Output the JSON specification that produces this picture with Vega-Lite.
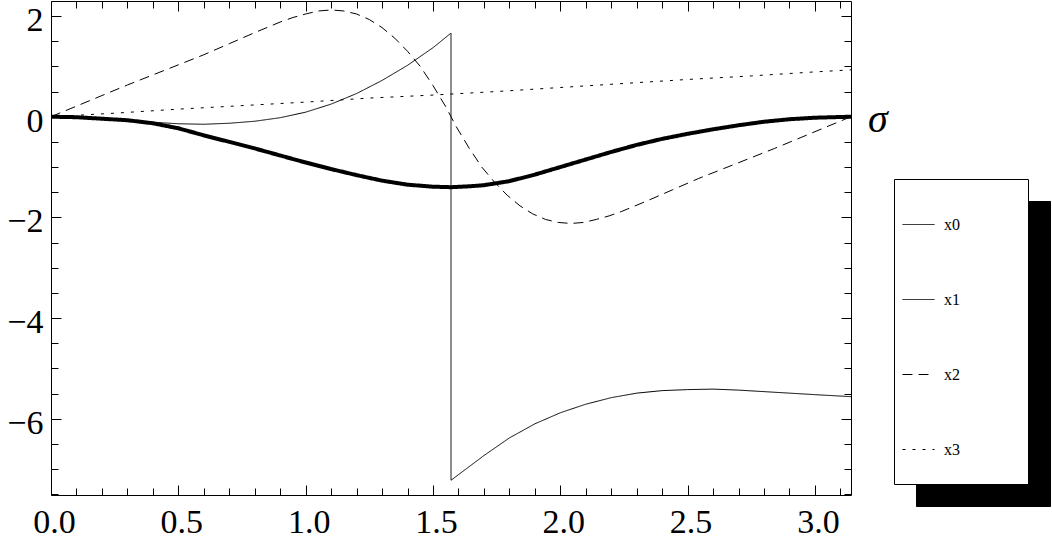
{
  "$schema": "https://vega.github.io/schema/vega-lite/v6.json",
  "width": 800,
  "height": 494,
  "autosize": {"type": "none"},
  "padding": {"left": 51, "top": 1, "right": 201, "bottom": 45},
  "background": "white",
  "config": {
    "view": {"stroke": "black", "strokeWidth": 1},
    "axis": {"grid": false, "domain": false, "title": null, "tickColor": "black", "labelColor": "black", "labelFont": "Liberation Serif", "labelFontSize": 34, "tickWidth": 1, "labelFlush": false, "labelOverlap": false, "labelBound": false},
    "legend": {"orient": "none", "title": null, "padding": 8, "symbolType": "M-1,0H-0.135", "symbolSize": 5476, "symbolStrokeWidth": 1, "symbolStrokeColor": "black", "labelFont": "Liberation Serif", "labelFontSize": 16, "labelColor": "black", "labelOffset": -33, "rowPadding": 11}
  },
  "datasets": {
    "curves": [
      {"s": "x0", "i": 0, "t": 0, "v": 0},
      {"s": "x0", "i": 1, "t": 0.1, "v": -0.01},
      {"s": "x0", "i": 2, "t": 0.2, "v": -0.04},
      {"s": "x0", "i": 3, "t": 0.3, "v": -0.07},
      {"s": "x0", "i": 4, "t": 0.4, "v": -0.13},
      {"s": "x0", "i": 5, "t": 0.5, "v": -0.23},
      {"s": "x0", "i": 6, "t": 0.6, "v": -0.37},
      {"s": "x0", "i": 7, "t": 0.7, "v": -0.5},
      {"s": "x0", "i": 8, "t": 0.8, "v": -0.63},
      {"s": "x0", "i": 9, "t": 0.9, "v": -0.77},
      {"s": "x0", "i": 10, "t": 1.0, "v": -0.91},
      {"s": "x0", "i": 11, "t": 1.1, "v": -1.04},
      {"s": "x0", "i": 12, "t": 1.2, "v": -1.16},
      {"s": "x0", "i": 13, "t": 1.3, "v": -1.27},
      {"s": "x0", "i": 14, "t": 1.4, "v": -1.35},
      {"s": "x0", "i": 15, "t": 1.5, "v": -1.39},
      {"s": "x0", "i": 16, "t": 1.5708, "v": -1.4},
      {"s": "x0", "i": 17, "t": 1.65, "v": -1.38},
      {"s": "x0", "i": 18, "t": 1.7, "v": -1.36},
      {"s": "x0", "i": 19, "t": 1.8, "v": -1.28},
      {"s": "x0", "i": 20, "t": 1.9, "v": -1.15},
      {"s": "x0", "i": 21, "t": 2.0, "v": -1.0},
      {"s": "x0", "i": 22, "t": 2.1, "v": -0.85},
      {"s": "x0", "i": 23, "t": 2.2, "v": -0.7},
      {"s": "x0", "i": 24, "t": 2.3, "v": -0.56},
      {"s": "x0", "i": 25, "t": 2.4, "v": -0.44},
      {"s": "x0", "i": 26, "t": 2.5, "v": -0.34},
      {"s": "x0", "i": 27, "t": 2.6, "v": -0.25},
      {"s": "x0", "i": 28, "t": 2.7, "v": -0.17},
      {"s": "x0", "i": 29, "t": 2.8, "v": -0.1},
      {"s": "x0", "i": 30, "t": 2.9, "v": -0.05},
      {"s": "x0", "i": 31, "t": 3.0, "v": -0.02},
      {"s": "x0", "i": 32, "t": 3.1416, "v": 0},
      {"s": "x1", "i": 0, "t": 0, "v": 0},
      {"s": "x1", "i": 1, "t": 0.1, "v": -0.01},
      {"s": "x1", "i": 2, "t": 0.2, "v": -0.03},
      {"s": "x1", "i": 3, "t": 0.3, "v": -0.07},
      {"s": "x1", "i": 4, "t": 0.4, "v": -0.11},
      {"s": "x1", "i": 5, "t": 0.5, "v": -0.14},
      {"s": "x1", "i": 6, "t": 0.6, "v": -0.15},
      {"s": "x1", "i": 7, "t": 0.7, "v": -0.13},
      {"s": "x1", "i": 8, "t": 0.8, "v": -0.09},
      {"s": "x1", "i": 9, "t": 0.9, "v": -0.02},
      {"s": "x1", "i": 10, "t": 1.0, "v": 0.09},
      {"s": "x1", "i": 11, "t": 1.1, "v": 0.25},
      {"s": "x1", "i": 12, "t": 1.2, "v": 0.46},
      {"s": "x1", "i": 13, "t": 1.3, "v": 0.72},
      {"s": "x1", "i": 14, "t": 1.4, "v": 1.02},
      {"s": "x1", "i": 15, "t": 1.5, "v": 1.37},
      {"s": "x1", "i": 16, "t": 1.5708, "v": 1.66},
      {"s": "x1", "i": 17, "t": 1.5708, "v": -7.22},
      {"s": "x1", "i": 18, "t": 1.65, "v": -6.92},
      {"s": "x1", "i": 19, "t": 1.7, "v": -6.73},
      {"s": "x1", "i": 20, "t": 1.8, "v": -6.38},
      {"s": "x1", "i": 21, "t": 1.9, "v": -6.1},
      {"s": "x1", "i": 22, "t": 2.0, "v": -5.88},
      {"s": "x1", "i": 23, "t": 2.1, "v": -5.71},
      {"s": "x1", "i": 24, "t": 2.2, "v": -5.58},
      {"s": "x1", "i": 25, "t": 2.3, "v": -5.49},
      {"s": "x1", "i": 26, "t": 2.4, "v": -5.44},
      {"s": "x1", "i": 27, "t": 2.5, "v": -5.42},
      {"s": "x1", "i": 28, "t": 2.6, "v": -5.41},
      {"s": "x1", "i": 29, "t": 2.7, "v": -5.43},
      {"s": "x1", "i": 30, "t": 2.8, "v": -5.46},
      {"s": "x1", "i": 31, "t": 2.9, "v": -5.49},
      {"s": "x1", "i": 32, "t": 3.0, "v": -5.52},
      {"s": "x1", "i": 33, "t": 3.1416, "v": -5.56},
      {"s": "x2", "i": 0, "t": 0, "v": 0},
      {"s": "x2", "i": 1, "t": 0.1, "v": 0.21},
      {"s": "x2", "i": 2, "t": 0.2, "v": 0.42},
      {"s": "x2", "i": 3, "t": 0.3, "v": 0.63},
      {"s": "x2", "i": 4, "t": 0.4, "v": 0.83},
      {"s": "x2", "i": 5, "t": 0.5, "v": 1.03},
      {"s": "x2", "i": 6, "t": 0.6, "v": 1.23},
      {"s": "x2", "i": 7, "t": 0.7, "v": 1.45},
      {"s": "x2", "i": 8, "t": 0.8, "v": 1.67},
      {"s": "x2", "i": 9, "t": 0.9, "v": 1.88},
      {"s": "x2", "i": 10, "t": 0.95, "v": 1.97},
      {"s": "x2", "i": 11, "t": 1.0, "v": 2.04},
      {"s": "x2", "i": 12, "t": 1.05, "v": 2.1},
      {"s": "x2", "i": 13, "t": 1.1, "v": 2.12},
      {"s": "x2", "i": 14, "t": 1.15, "v": 2.1},
      {"s": "x2", "i": 15, "t": 1.2, "v": 2.04},
      {"s": "x2", "i": 16, "t": 1.25, "v": 1.93},
      {"s": "x2", "i": 17, "t": 1.3, "v": 1.77},
      {"s": "x2", "i": 18, "t": 1.35, "v": 1.56},
      {"s": "x2", "i": 19, "t": 1.4, "v": 1.3},
      {"s": "x2", "i": 20, "t": 1.45, "v": 1.0},
      {"s": "x2", "i": 21, "t": 1.5, "v": 0.62},
      {"s": "x2", "i": 22, "t": 1.55, "v": 0.2},
      {"s": "x2", "i": 23, "t": 1.5708, "v": 0},
      {"s": "x2", "i": 24, "t": 1.5916, "v": -0.2},
      {"s": "x2", "i": 25, "t": 1.6416, "v": -0.62},
      {"s": "x2", "i": 26, "t": 1.6916, "v": -1.0},
      {"s": "x2", "i": 27, "t": 1.7416, "v": -1.3},
      {"s": "x2", "i": 28, "t": 1.7916, "v": -1.56},
      {"s": "x2", "i": 29, "t": 1.8416, "v": -1.77},
      {"s": "x2", "i": 30, "t": 1.8916, "v": -1.93},
      {"s": "x2", "i": 31, "t": 1.9416, "v": -2.04},
      {"s": "x2", "i": 32, "t": 1.9916, "v": -2.1},
      {"s": "x2", "i": 33, "t": 2.0416, "v": -2.12},
      {"s": "x2", "i": 34, "t": 2.0916, "v": -2.1},
      {"s": "x2", "i": 35, "t": 2.1416, "v": -2.04},
      {"s": "x2", "i": 36, "t": 2.1916, "v": -1.97},
      {"s": "x2", "i": 37, "t": 2.2416, "v": -1.88},
      {"s": "x2", "i": 38, "t": 2.3416, "v": -1.67},
      {"s": "x2", "i": 39, "t": 2.4416, "v": -1.45},
      {"s": "x2", "i": 40, "t": 2.5416, "v": -1.23},
      {"s": "x2", "i": 41, "t": 2.6416, "v": -1.03},
      {"s": "x2", "i": 42, "t": 2.7416, "v": -0.83},
      {"s": "x2", "i": 43, "t": 2.8416, "v": -0.63},
      {"s": "x2", "i": 44, "t": 2.9416, "v": -0.42},
      {"s": "x2", "i": 45, "t": 3.0416, "v": -0.21},
      {"s": "x2", "i": 46, "t": 3.1416, "v": 0},
      {"s": "x3", "i": 0, "t": 0, "v": 0},
      {"s": "x3", "i": 1, "t": 0.25, "v": 0.07},
      {"s": "x3", "i": 2, "t": 0.5, "v": 0.15},
      {"s": "x3", "i": 3, "t": 0.75, "v": 0.22},
      {"s": "x3", "i": 4, "t": 1.0, "v": 0.29},
      {"s": "x3", "i": 5, "t": 1.25, "v": 0.37},
      {"s": "x3", "i": 6, "t": 1.5, "v": 0.43},
      {"s": "x3", "i": 7, "t": 1.75, "v": 0.5},
      {"s": "x3", "i": 8, "t": 2.0, "v": 0.58},
      {"s": "x3", "i": 9, "t": 2.25, "v": 0.66},
      {"s": "x3", "i": 10, "t": 2.5, "v": 0.74},
      {"s": "x3", "i": 11, "t": 2.75, "v": 0.81},
      {"s": "x3", "i": 12, "t": 3.0, "v": 0.89},
      {"s": "x3", "i": 13, "t": 3.1416, "v": 0.93}
    ],
    "keys": [{"k": "x0"}, {"k": "x1"}, {"k": "x2"}, {"k": "x3"}],
    "label": [{"t": 3.1416, "v": 0, "lab": "σ"}]
  },
  "resolve": {"axis": {"x": "independent", "y": "independent"}},
  "layer": [
    {
      "mark": {"type": "rule", "color": "black", "strokeWidth": 1},
      "encoding": {
        "y": {"datum": 0, "type": "quantitative", "scale": {"domain": [-7.513, 2.298], "nice": false, "zero": false}, "axis": null}
      }
    },
    {
      "data": {"name": "curves"},
      "transform": [{"filter": "datum.s == 'x3'"}],
      "mark": {"type": "line", "color": "black", "strokeWidth": 1},
      "encoding": {
        "x": {"field": "t", "type": "quantitative", "scale": {"domain": [0, 3.14159], "nice": false, "zero": false},
              "axis": {"orient": "top", "values": [0.1,0.2,0.3,0.4,0.6,0.7,0.8,0.9,1.1,1.2,1.3,1.4,1.6,1.7,1.8,1.9,2.1,2.2,2.3,2.4,2.6,2.7,2.8,2.9,3.1], "labels": false, "tickSize": -7}},
        "y": {"field": "v", "type": "quantitative", "scale": {"domain": [-7.513, 2.298], "nice": false, "zero": false},
              "axis": {"orient": "right", "values": [-7.5,-7,-6.5,-5.5,-5,-4.5,-3.5,-3,-2.5,-1.5,-1,-0.5,0.5,1,1.5], "labels": false, "tickSize": -7}},
        "strokeDash": {"field": "s", "type": "nominal", "scale": {"domain": ["x0","x1","x2","x3"], "range": [[1,0],[1,0],[10,6],[3,7]]},
                       "legend": {"legendX": 843, "legendY": 178, "fillColor": "white", "strokeColor": "black", "zindex": 1, "labelExpr": "[datum.label + '\u00a0\u00a0\u00a0\u00a0\u00a0\u00a0\u00a0\u00a0\u00a0\u00a0\u00a0\u00a0\u00a0\u00a0\u00a0\u200b', '']"}},
        "order": {"field": "i", "type": "quantitative"}
      }
    },
    {
      "data": {"name": "curves"},
      "transform": [{"filter": "datum.s == 'x2'"}],
      "mark": {"type": "line", "color": "black", "strokeWidth": 1},
      "encoding": {
        "x": {"field": "t", "type": "quantitative", "scale": {"domain": [0, 3.14159], "nice": false, "zero": false},
              "axis": {"orient": "top", "values": [0,0.5,1,1.5,2,2.5,3], "labels": false, "tickSize": -10}},
        "y": {"field": "v", "type": "quantitative", "scale": {"domain": [-7.513, 2.298], "nice": false, "zero": false},
              "axis": {"orient": "right", "values": [-6,-4,-2,0,2], "labels": false, "tickSize": -10}},
        "strokeDash": {"field": "s", "type": "nominal", "scale": {"domain": ["x0","x1","x2","x3"], "range": [[1,0],[1,0],[10,6],[3,7]]},
                       "legend": {"legendX": 843, "legendY": 178, "fillColor": "white", "strokeColor": "black", "zindex": 1, "labelExpr": "[datum.label + '\u00a0\u00a0\u00a0\u00a0\u00a0\u00a0\u00a0\u00a0\u00a0\u00a0\u00a0\u00a0\u00a0\u00a0\u00a0\u200b', '']"}},
        "order": {"field": "i", "type": "quantitative"}
      }
    },
    {
      "data": {"name": "curves"},
      "transform": [{"filter": "datum.s == 'x1'"}],
      "mark": {"type": "line", "color": "black", "strokeWidth": 1},
      "encoding": {
        "x": {"field": "t", "type": "quantitative", "scale": {"domain": [0, 3.14159], "nice": false, "zero": false},
              "axis": {"orient": "bottom", "values": [0.1,0.2,0.3,0.4,0.6,0.7,0.8,0.9,1.1,1.2,1.3,1.4,1.6,1.7,1.8,1.9,2.1,2.2,2.3,2.4,2.6,2.7,2.8,2.9,3.1], "labels": false, "tickSize": -7}},
        "y": {"field": "v", "type": "quantitative", "scale": {"domain": [-7.513, 2.298], "nice": false, "zero": false},
              "axis": {"orient": "left", "values": [-7.5,-7,-6.5,-5.5,-5,-4.5,-3.5,-3,-2.5,-1.5,-1,-0.5,0.5,1,1.5], "labels": false, "tickSize": -7}},
        "strokeDash": {"field": "s", "type": "nominal", "scale": {"domain": ["x0","x1","x2","x3"], "range": [[1,0],[1,0],[10,6],[3,7]]},
                       "legend": {"legendX": 843, "legendY": 178, "fillColor": "white", "strokeColor": "black", "zindex": 1, "labelExpr": "[datum.label + '\u00a0\u00a0\u00a0\u00a0\u00a0\u00a0\u00a0\u00a0\u00a0\u00a0\u00a0\u00a0\u00a0\u00a0\u00a0\u200b', '']"}},
        "order": {"field": "i", "type": "quantitative"}
      }
    },
    {
      "data": {"name": "curves"},
      "transform": [{"filter": "datum.s == 'x0'"}],
      "mark": {"type": "line", "color": "black", "strokeWidth": 4},
      "encoding": {
        "x": {"field": "t", "type": "quantitative", "scale": {"domain": [0, 3.14159], "nice": false, "zero": false},
              "axis": {"orient": "bottom", "values": [0,0.5,1,1.5,2,2.5,3], "format": ".1f", "tickSize": -10, "labelPadding": 20.6, "labelOffset": 3}},
        "y": {"field": "v", "type": "quantitative", "scale": {"domain": [-7.513, 2.298], "nice": false, "zero": false},
              "axis": {"orient": "left", "values": [-6,-4,-2,0,2], "format": "d", "tickSize": -10, "labelPadding": 18, "labelOffset": 4.5}},
        "strokeDash": {"field": "s", "type": "nominal", "scale": {"domain": ["x0","x1","x2","x3"], "range": [[1,0],[1,0],[10,6],[3,7]]},
                       "legend": {"legendX": 843, "legendY": 178, "fillColor": "white", "strokeColor": "black", "zindex": 1, "labelExpr": "[datum.label + '\u00a0\u00a0\u00a0\u00a0\u00a0\u00a0\u00a0\u00a0\u00a0\u00a0\u00a0\u00a0\u00a0\u00a0\u00a0\u200b', '']"}},
        "order": {"field": "i", "type": "quantitative"}
      }
    },
    {
      "data": {"name": "label"},
      "mark": {"type": "text", "align": "left", "baseline": "middle", "dx": 17, "dy": 3, "font": "Liberation Serif", "fontStyle": "italic", "fontSize": 40, "color": "black"},
      "encoding": {
        "x": {"field": "t", "type": "quantitative", "scale": {"domain": [0, 3.14159], "nice": false, "zero": false}, "axis": null},
        "y": {"field": "v", "type": "quantitative", "scale": {"domain": [-7.513, 2.298], "nice": false, "zero": false}, "axis": null},
        "text": {"field": "lab"}
      }
    },
    {
      "data": {"name": "keys"},
      "mark": {"type": "point", "opacity": 0},
      "encoding": {
        "shape": {"field": "k", "type": "nominal", "scale": {"range": ["M-1,0H-0.135", "M-1,0H-0.135", "M-1,0H-0.135", "M-1,0H-0.135"]},
                  "legend": {"legendX": 865, "legendY": 200, "fillColor": "black", "strokeColor": "black", "symbolFillColor": "black", "symbolStrokeColor": "black", "labelColor": "black", "zindex": 0, "labelExpr": "[datum.label + '\u00a0\u00a0\u00a0\u00a0\u00a0\u00a0\u00a0\u00a0\u00a0\u00a0\u00a0\u00a0\u00a0\u00a0\u00a0\u200b', '']"}}
      }
    }
  ]
}
